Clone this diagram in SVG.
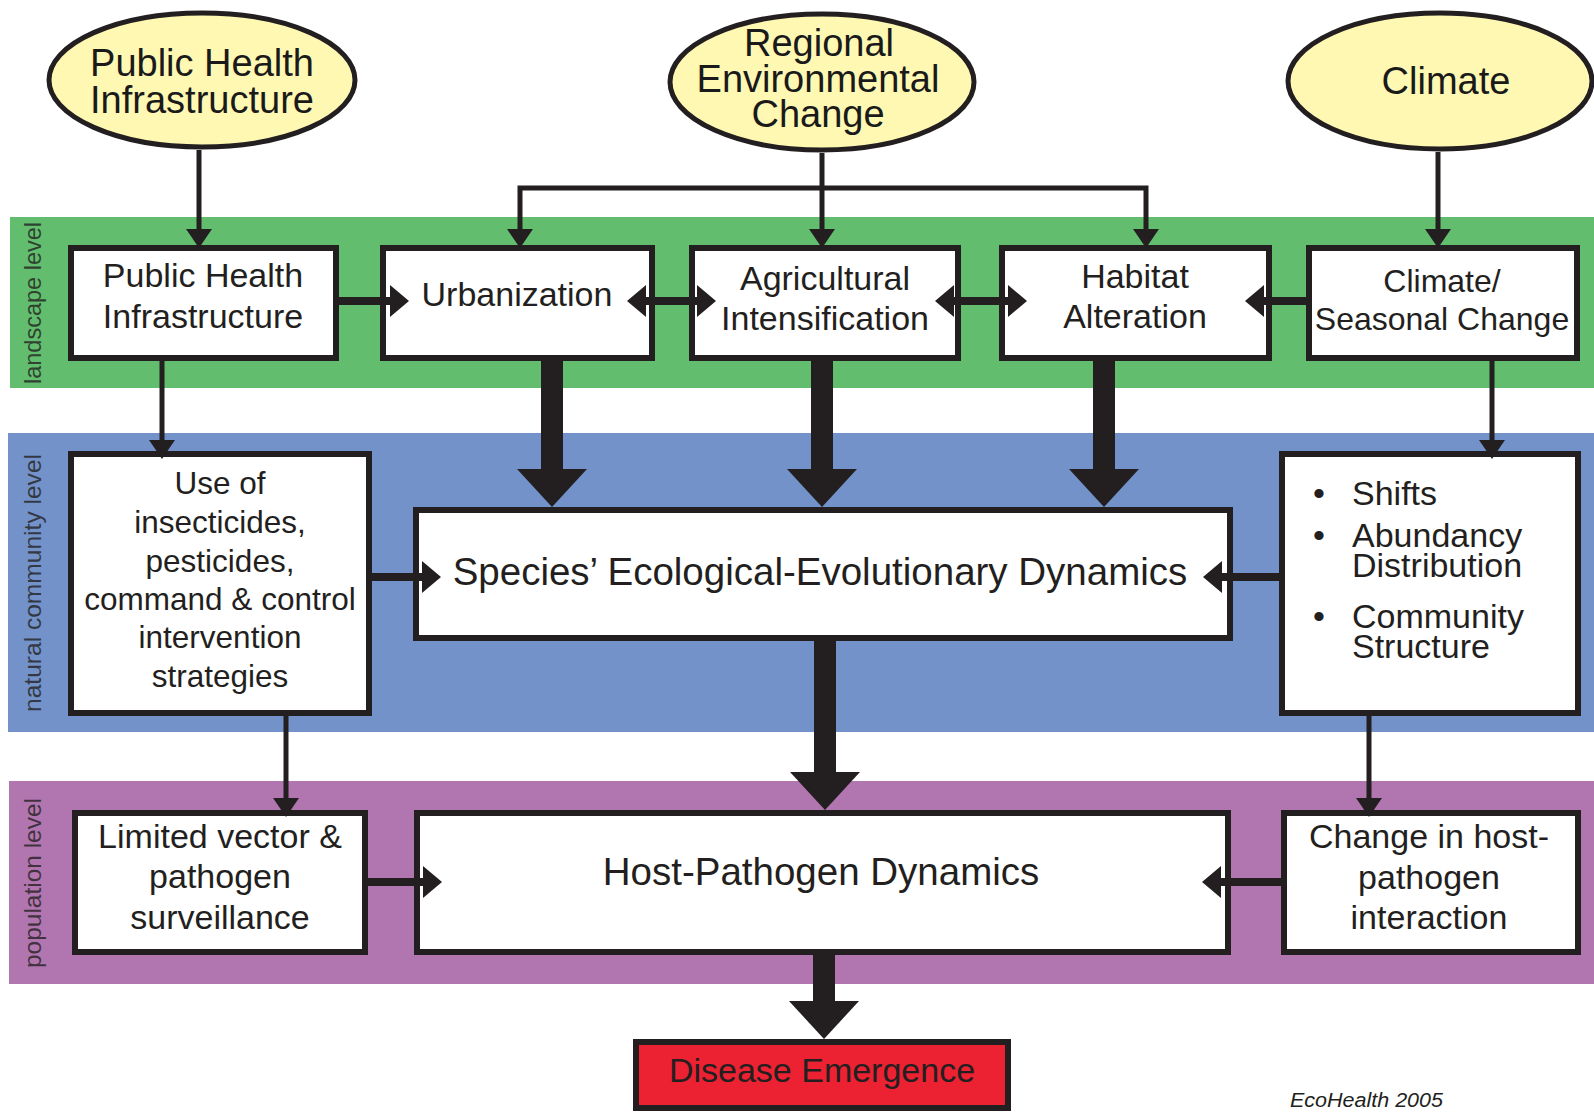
<svg xmlns="http://www.w3.org/2000/svg" xmlns:xlink="http://www.w3.org/1999/xlink" width="1594" height="1112" viewBox="0 0 1594 1112">
<style>
.band-g{fill:#62BD6E}
.band-b{fill:#7292C9}
.band-p{fill:#B175B0}
.ell{fill:#FFF8B3;stroke:#231f20;stroke-width:5}
.box{fill:#fff;stroke:#231f20;stroke-width:6}
.red{fill:#EC2232;stroke:#231f20;stroke-width:6}
text{font-family:"Liberation Sans",Arial,sans-serif;fill:#231f20}
.et{font-size:38px;text-anchor:middle;fill:#1a1a1a}
.bt{font-size:34px;text-anchor:middle}
.ut{font-size:31.5px;text-anchor:middle}
.st{font-size:34px}
.big{font-size:38.5px;text-anchor:middle}
.lvl{font-size:24px;text-anchor:middle;fill-opacity:0.8}
.thin{fill:none;stroke:#231f20;stroke-width:5}
.med{fill:none;stroke:#231f20;stroke-width:8}
.thick{fill:none;stroke:#231f20;stroke-width:22}
.head{fill:#231f20}
</style>
<defs>
<polygon id="headS" points="0,0 -19,-13 -19,13"/>
<polygon id="headM" points="0,0 -19,-16 -19,16"/>
<polygon id="headL" points="0,0 -38,-35 -38,35"/>
</defs>
<rect width="1594" height="1112" fill="#fff"/>
<g id="bands">
<rect class="band-g" x="10" y="217" width="1584" height="171"/>
<rect class="band-b" x="8" y="433" width="1586" height="299"/>
<rect class="band-p" x="9" y="781" width="1585" height="203"/>
<text class="lvl" transform="translate(41,303) rotate(-90)" textLength="162" lengthAdjust="spacingAndGlyphs">landscape level</text>
<text class="lvl" transform="translate(41,583) rotate(-90)" textLength="258" lengthAdjust="spacingAndGlyphs">natural community level</text>
<text class="lvl" transform="translate(41,883) rotate(-90)" textLength="170" lengthAdjust="spacingAndGlyphs">population level</text>
</g>
<g id="node-phi-ellipse">
<ellipse class="ell" cx="202" cy="80" rx="153" ry="67"/>
<text class="et" x="202" y="76">Public Health</text>
<text class="et" x="202" y="113">Infrastructure</text>
</g>
<g id="node-regional">
<ellipse class="ell" cx="822" cy="82" rx="152" ry="68"/>
<text class="et" x="819" y="56">Regional</text>
<text class="et" x="818" y="92">Environmental</text>
<text class="et" x="818" y="127">Change</text>
</g>
<g id="node-climate">
<ellipse class="ell" cx="1440" cy="81" rx="152" ry="68"/>
<text class="et" x="1446" y="94">Climate</text>
</g>
<g id="node-phi-box">
<rect class="box" x="71" y="248" width="265" height="110"/>
<text class="bt" x="203" y="287">Public Health</text>
<text class="bt" x="203" y="328">Infrastructure</text>
</g>
<g id="node-urbanization">
<rect class="box" x="383" y="248" width="269" height="110"/>
<text class="bt" x="517" y="306">Urbanization</text>
</g>
<g id="node-agricultural">
<rect class="box" x="692" y="248" width="266" height="110"/>
<text class="bt" x="825" y="290">Agricultural</text>
<text class="bt" x="825" y="330">Intensification</text>
</g>
<g id="node-habitat">
<rect class="box" x="1002" y="248" width="267" height="110"/>
<text class="bt" x="1135" y="288">Habitat</text>
<text class="bt" x="1135" y="328">Alteration</text>
</g>
<g id="node-climate-seasonal">
<rect class="box" x="1309" y="248" width="268" height="110"/>
<text class="bt" x="1442" y="292" style="font-size:32px">Climate/</text>
<text class="bt" x="1442" y="330" style="font-size:32px">Seasonal Change</text>
</g>
<g id="node-use-of">
<rect class="box" x="71" y="454" width="298" height="259"/>
<text class="ut" x="220" y="494">Use of</text>
<text class="ut" x="220" y="533">insecticides,</text>
<text class="ut" x="220" y="572">pesticides,</text>
<text class="ut" x="220" y="610">command &amp; control</text>
<text class="ut" x="220" y="648">intervention</text>
<text class="ut" x="220" y="687">strategies</text>
</g>
<g id="node-species">
<rect class="box" x="416" y="510" width="814" height="128"/>
<text class="big" x="820" y="585">Species’ Ecological-Evolutionary Dynamics</text>
</g>
<g id="node-shifts">
<rect class="box" x="1282" y="454" width="296" height="259"/>
<text class="st" x="1319" y="505" text-anchor="middle">•</text>
<text class="st" x="1352" y="505">Shifts</text>
<text class="st" x="1319" y="547" text-anchor="middle">•</text>
<text class="st" x="1352" y="547">Abundancy</text>
<text class="st" x="1352" y="577">Distribution</text>
<text class="st" x="1319" y="628" text-anchor="middle">•</text>
<text class="st" x="1352" y="628">Community</text>
<text class="st" x="1352" y="658">Structure</text>
</g>
<g id="node-limited">
<rect class="box" x="75" y="813" width="290" height="139"/>
<text class="bt" x="220" y="848">Limited vector &amp;</text>
<text class="bt" x="220" y="888">pathogen</text>
<text class="bt" x="220" y="929">surveillance</text>
</g>
<g id="node-host-pathogen">
<rect class="box" x="417" y="813" width="811" height="139"/>
<text class="big" x="821" y="885">Host-Pathogen Dynamics</text>
</g>
<g id="node-change">
<rect class="box" x="1284" y="813" width="294" height="139"/>
<text class="bt" x="1429" y="848">Change in host-</text>
<text class="bt" x="1429" y="889">pathogen</text>
<text class="bt" x="1429" y="929">interaction</text>
</g>
<g id="node-disease">
<rect class="red" x="636" y="1042" width="372" height="66"/>
<text class="bt" x="822" y="1082">Disease Emergence</text>
</g>
<g id="credit">
<text x="1290" y="1107" style="font-size:20px;font-style:italic" textLength="153" lengthAdjust="spacingAndGlyphs">EcoHealth 2005</text>
</g>
<g id="connectors">
<path class="thin" d="M199,150 V232"/>
<use href="#headS" class="head" transform="translate(199,248) rotate(90)"/>
<path class="thin" d="M822,153 V232"/>
<use href="#headS" class="head" transform="translate(822,248) rotate(90)"/>
<path class="thin" d="M520,232 V188 H1146 V232"/>
<use href="#headS" class="head" transform="translate(520,248) rotate(90)"/>
<use href="#headS" class="head" transform="translate(1146,248) rotate(90)"/>
<path class="thin" d="M1438,152 V232"/>
<use href="#headS" class="head" transform="translate(1438,248) rotate(90)"/>
<path class="thin" d="M162,361 V443"/>
<use href="#headS" class="head" transform="translate(162,459) rotate(90)"/>
<path class="thin" d="M1492,361 V443"/>
<use href="#headS" class="head" transform="translate(1492,459) rotate(90)"/>
<path class="thin" d="M286,716 V801"/>
<use href="#headS" class="head" transform="translate(286,817) rotate(90)"/>
<path class="thin" d="M1369,716 V801"/>
<use href="#headS" class="head" transform="translate(1369,817) rotate(90)"/>
<path class="med" d="M339,301 H393"/>
<use href="#headM" class="head" transform="translate(409,301)"/>
<path class="med" d="M643,301 H700"/>
<use href="#headM" class="head" transform="translate(627,301) rotate(180)"/>
<use href="#headM" class="head" transform="translate(716,301)"/>
<path class="med" d="M951,301 H1011"/>
<use href="#headM" class="head" transform="translate(935,301) rotate(180)"/>
<use href="#headM" class="head" transform="translate(1027,301)"/>
<path class="med" d="M1306,301 H1261"/>
<use href="#headM" class="head" transform="translate(1245,301) rotate(180)"/>
<path class="med" d="M369,577 H425"/>
<use href="#headM" class="head" transform="translate(441,577)"/>
<path class="med" d="M1282,577 H1219"/>
<use href="#headM" class="head" transform="translate(1203,577) rotate(180)"/>
<path class="med" d="M365,882 H426"/>
<use href="#headM" class="head" transform="translate(442,882)"/>
<path class="med" d="M1284,882 H1218"/>
<use href="#headM" class="head" transform="translate(1202,882) rotate(180)"/>
<path class="thick" d="M552,361 V472"/>
<use href="#headL" class="head" transform="translate(552,507) rotate(90)"/>
<path class="thick" d="M822,361 V472"/>
<use href="#headL" class="head" transform="translate(822,507) rotate(90)"/>
<path class="thick" d="M1104,361 V472"/>
<use href="#headL" class="head" transform="translate(1104,507) rotate(90)"/>
<path class="thick" d="M825,641 V775"/>
<use href="#headL" class="head" transform="translate(825,810) rotate(90)"/>
<path class="thick" d="M824,955 V1004"/>
<use href="#headL" class="head" transform="translate(824,1039) rotate(90)"/>
</g>
</svg>
